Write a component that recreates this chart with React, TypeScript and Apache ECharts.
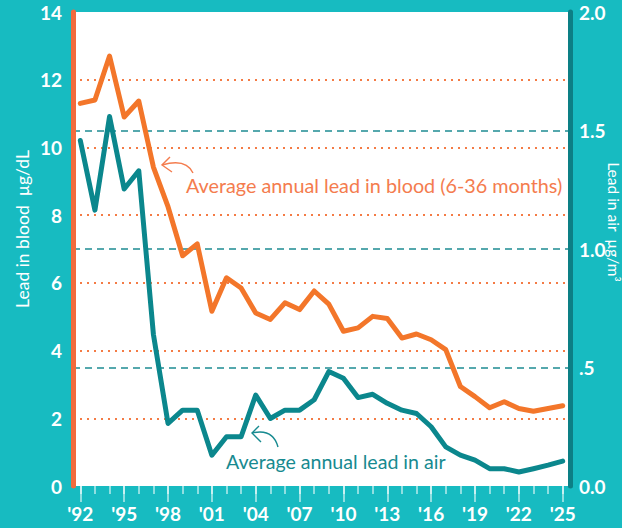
import React, { useEffect, useRef } from "react";
import * as echarts from "echarts";

const years = [
  1992, 1993, 1994, 1995, 1996, 1997, 1998, 1999, 2000, 2001, 2002, 2003,
  2004, 2005, 2006, 2007, 2008, 2009, 2010, 2011, 2012, 2013, 2014, 2015,
  2016, 2017, 2018, 2019, 2020, 2021, 2022, 2023, 2024, 2025,
];
const bloodLead = [
  11.3, 11.4, 12.7, 10.9, 11.37, 9.42, 8.25, 6.8, 7.15, 5.16, 6.15, 5.85,
  5.11, 4.92, 5.41, 5.21, 5.76, 5.37, 4.57, 4.67, 5.01, 4.95, 4.37, 4.49,
  4.32, 4.03, 2.94, 2.64, 2.31, 2.49, 2.29, 2.21, 2.29, 2.37,
];
const airLead = [
  1.458, 1.164, 1.559, 1.253, 1.33, 0.64, 0.264, 0.32, 0.32, 0.13, 0.208,
  0.208, 0.384, 0.285, 0.32, 0.32, 0.364, 0.483, 0.455, 0.373, 0.387, 0.349,
  0.32, 0.306, 0.25, 0.165, 0.13, 0.109, 0.073, 0.073, 0.059, 0.073, 0.088,
  0.105,
];
const leftTicks = [0, 2, 4, 6, 8, 10, 12, 14];
const rightTicks = ["0.0", ".5", "1.0", "1.5", "2.0"];

const BG = "#17BBC1";
const ORANGE = "#F3762A";
const ORANGE_TEXT = "#F47C4E";
const TEAL = "#0B878D";
const TEAL_TEXT = "#178A90";
const FONT = "Lato, 'Noto Sans', sans-serif";

export default function App() {
  const ref = useRef<HTMLDivElement>(null);
  useEffect(() => {
    document.body.style.margin = "0";
    const chart = echarts.init(ref.current!, undefined, { renderer: "svg" });
    const cats = years.map(String);
    const leftSplitColors = leftTicks.map((_, i) =>
      i === 0 || i === leftTicks.length - 1 ? "rgba(0,0,0,0)" : "#F47B45"
    );
    const rightSplitColors = rightTicks.map((_, i) =>
      i === 0 || i === rightTicks.length - 1 ? "rgba(0,0,0,0)" : "#1E8C92"
    );
    chart.setOption({
      animation: false,
      backgroundColor: BG,
      grid: {
        left: 73,
        right: 52,
        top: 12,
        bottom: 42,
        show: true,
        backgroundColor: "#FFFFFF",
        borderWidth: 0,
      },
      xAxis: [
        {
          type: "category",
          data: cats,
          boundaryGap: true,
          axisLine: { show: false },
          axisTick: {
            show: true,
            alignWithLabel: true,
            interval: 0,
            length: 8,
            lineStyle: { color: "rgba(255,255,255,0.7)", width: 1.5 },
          },
          axisLabel: {
            interval: 2,
            margin: 18,
            color: "#FFFFFF",
            fontFamily: FONT,
            fontWeight: "bold",
            fontSize: 19,
            formatter: (v: string) => "'" + v.slice(2),
          },
          splitLine: { show: false },
        },
        {
          type: "category",
          data: cats,
          boundaryGap: true,
          position: "bottom",
          axisLine: { show: false },
          axisTick: {
            show: true,
            alignWithLabel: true,
            interval: 2,
            length: 16,
            lineStyle: { color: "rgba(255,255,255,0.7)", width: 1.5 },
          },
          axisLabel: { show: false },
          splitLine: { show: false },
        },
      ],
      yAxis: [
        {
          type: "value",
          min: 0,
          max: 14,
          interval: 2,
          position: "left",
          axisLine: { show: true, lineStyle: { color: "#F26B3D", width: 5 } },
          axisTick: { show: false },
          axisLabel: {
            margin: 11,
            color: "#FFFFFF",
            fontFamily: FONT,
            fontWeight: "bold",
            fontSize: 19,
          },
          splitLine: {
            show: true,
            lineStyle: { color: leftSplitColors, type: [2, 5], width: 2 },
          },
        },
        {
          type: "value",
          min: 0,
          max: 2,
          interval: 0.5,
          position: "right",
          axisLine: { show: true, lineStyle: { color: "#0C7F85", width: 5 } },
          axisTick: { show: false },
          axisLabel: {
            margin: 9,
            color: "#FFFFFF",
            fontFamily: FONT,
            fontWeight: "bold",
            fontSize: 19,
            formatter: (v: number) => rightTicks[Math.round(v * 2)],
          },
          splitLine: {
            show: true,
            lineStyle: { color: rightSplitColors, type: [7, 5], width: 1.5 },
          },
        },
      ],
      series: [
        {
          name: "Average annual lead in air",
          type: "line",
          xAxisIndex: 0,
          yAxisIndex: 1,
          data: airLead,
          showSymbol: false,
          lineStyle: { color: TEAL, width: 5, cap: "round", join: "round" },
          z: 3,
        },
        {
          name: "Average annual lead in blood (6-36 months)",
          type: "line",
          xAxisIndex: 0,
          yAxisIndex: 0,
          data: bloodLead,
          showSymbol: false,
          lineStyle: { color: ORANGE, width: 5, cap: "round", join: "round" },
          z: 4,
        },
      ],
      graphic: [
        {
          type: "text",
          x: 22,
          y: 229,
          rotation: Math.PI / 2,
          style: {
            text: "Lead in blood  µg/dL",
            fill: "#FFFFFF",
            font: `17.5px ${FONT}`,
            align: "center",
            verticalAlign: "middle",
          },
        },
        {
          type: "text",
          x: 614,
          y: 222,
          rotation: -Math.PI / 2,
          style: {
            text: "Lead in air  µg/m³",
            fill: "#FFFFFF",
            font: `15.5px ${FONT}`,
            align: "center",
            verticalAlign: "middle",
          },
        },
        {
          type: "text",
          x: 186,
          y: 185,
          style: {
            text: "Average annual lead in blood (6-36 months)",
            fill: ORANGE_TEXT,
            font: `19.8px ${FONT}`,
            align: "left",
            verticalAlign: "middle",
          },
        },
        {
          type: "bezierCurve",
          shape: { x1: 193, y1: 173, x2: 162, y2: 165, cpx1: 186, cpy1: 158 },
          style: { stroke: ORANGE_TEXT, lineWidth: 1.4, fill: null },
        },
        {
          type: "polyline",
          shape: { points: [[170, 157], [162, 165], [172, 172]] },
          style: { stroke: ORANGE_TEXT, lineWidth: 1.4, fill: null },
        },
        {
          type: "text",
          x: 226,
          y: 461,
          style: {
            text: "Average annual lead in air",
            fill: TEAL_TEXT,
            font: `19.6px ${FONT}`,
            align: "left",
            verticalAlign: "middle",
          },
        },
        {
          type: "bezierCurve",
          shape: { x1: 278, y1: 447, x2: 252, y2: 433, cpx1: 273, cpy1: 428 },
          style: { stroke: TEAL_TEXT, lineWidth: 1.4, fill: null },
        },
        {
          type: "polyline",
          shape: { points: [[259, 426], [252, 433], [261, 442]] },
          style: { stroke: TEAL_TEXT, lineWidth: 1.4, fill: null },
        },
      ],
    });
    return () => chart.dispose();
  }, []);
  return (
    <div
      ref={ref}
      style={{ position: "fixed", left: 0, top: 0, width: 622, height: 528 }}
    />
  );
}
